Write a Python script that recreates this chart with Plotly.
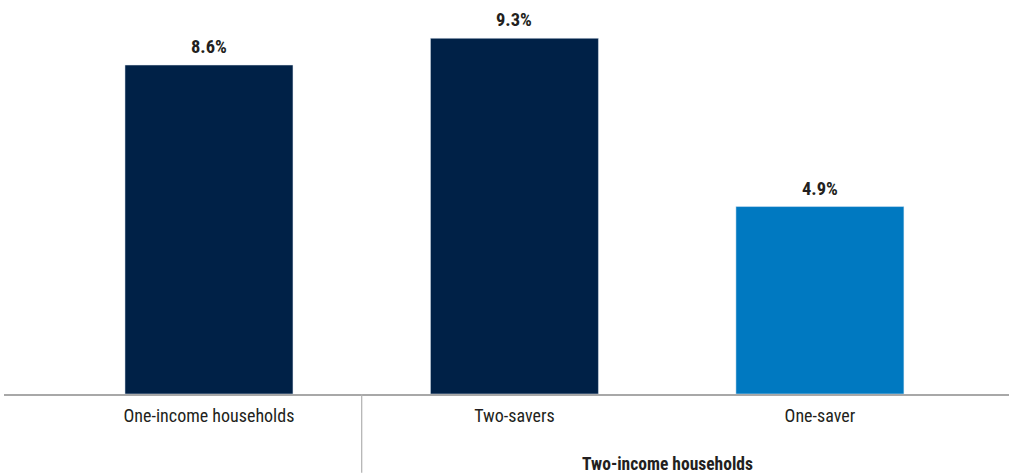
import plotly.graph_objects as go

categories = ["One-income households", "Two-savers", "One-saver"]
values = [8.6, 9.3, 4.9]
labels = ["8.6%", "9.3%", "4.9%"]
colors = ["#002147", "#002147", "#0079C1"]
group_label = "Two-income households"

FONT = "Liberation Sans Narrow, Roboto Condensed, Arial Narrow, Roboto, sans-serif"
xs = list(range(len(categories)))

fig = go.Figure(go.Bar(x=xs, y=values, marker_color=colors, width=0.55,
                       hoverinfo="skip"))

for x, v, t in zip(xs, values, labels):
    fig.add_annotation(x=x, y=v, text=f"<b>{t}</b>", showarrow=False,
                       yanchor="bottom", yshift=5,
                       font=dict(family=FONT, size=18.5, color="#231F20"))

fig.add_annotation(x=1.5, y=-0.178, xref="x", yref="paper", text=f"<b>{group_label}</b>",
                   showarrow=False, yanchor="middle",
                   font=dict(family=FONT, size=17.5, color="#231F20"))

fig.add_shape(type="line", x0=0.5, x1=0.5, xref="x", y0=0, y1=-0.2, yref="paper",
              line=dict(color="#B0B0B0", width=1.2))

fig.update_layout(
    width=1009, height=476,
    margin=dict(l=4, r=0, t=0, b=82),
    plot_bgcolor="white", paper_bgcolor="white",
    showlegend=False,
    xaxis=dict(range=[-0.671, 2.619], tickvals=xs, ticktext=categories,
               showgrid=False, zeroline=False, showline=True,
               linecolor="#A8A8A8", linewidth=1.5,
               ticks="outside", ticklen=5, tickcolor="rgba(0,0,0,0)",
               tickfont=dict(family=FONT, size=18, color="#231F20")),
    yaxis=dict(range=[0, 10.3], visible=False),
)

fig.write_html("out.html")
